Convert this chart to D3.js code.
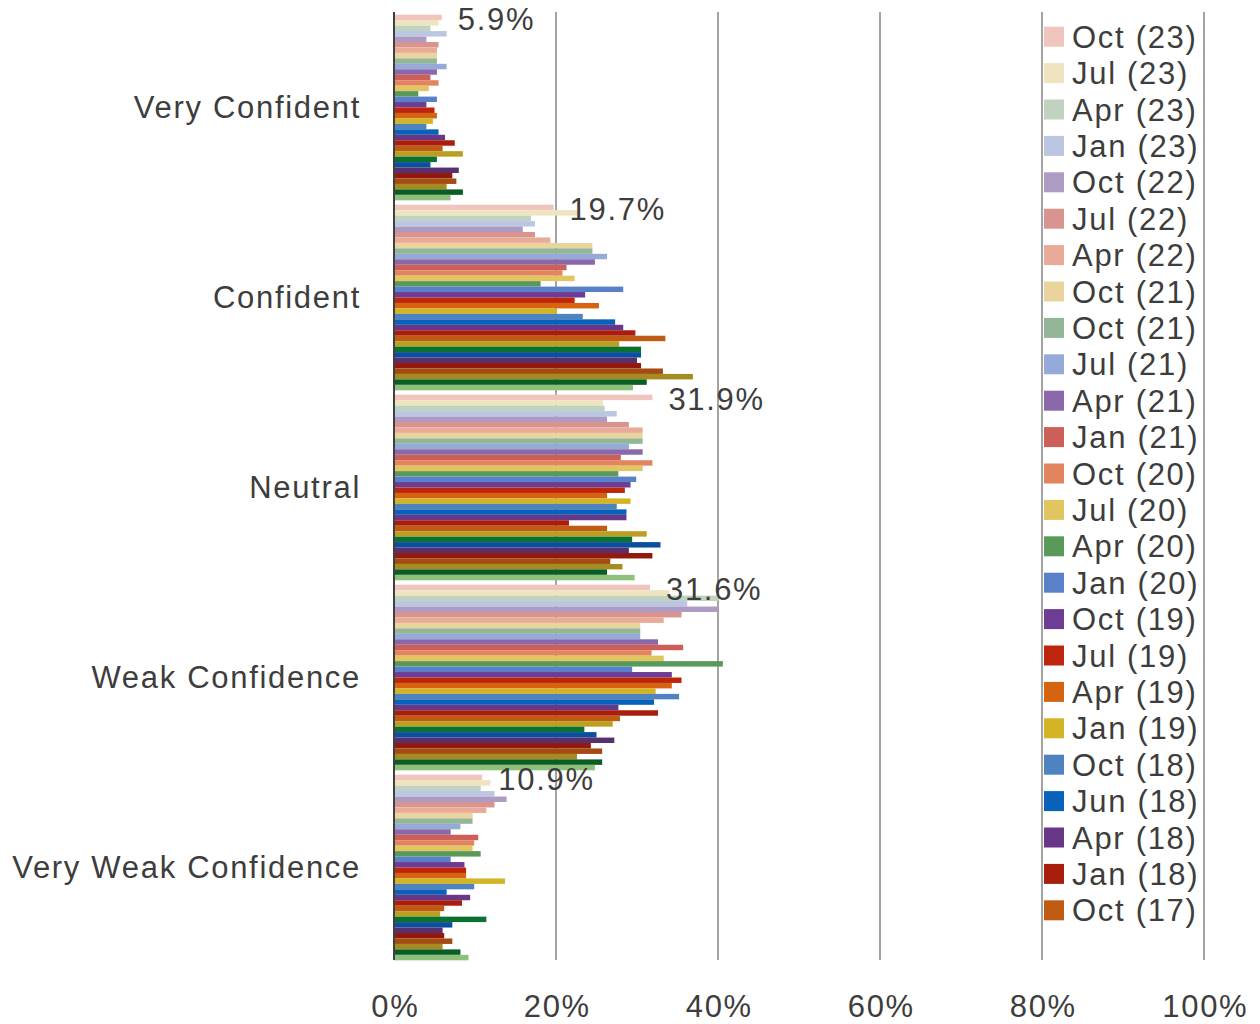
<!DOCTYPE html>
<html>
<head>
<meta charset="utf-8">
<script src="https://cdn.jsdelivr.net/npm/d3@7"></script>
<style>
  body { margin: 0; background: #fff; }
  text { font-family: "Liberation Sans", Arial, sans-serif; fill: #3d3d3d; }
</style>
</head>
<body>
<script>
// The data
const categories = ['Very Confident', 'Confident', 'Neutral', 'Weak Confidence', 'Very Weak Confidence'];

// survey waves, newest first (legend only has room for the first 25)
const waves = ['Oct (23)', 'Jul (23)', 'Apr (23)', 'Jan (23)', 'Oct (22)', 'Jul (22)', 'Apr (22)',
  'Oct (21)', 'Oct (21) ', 'Jul (21)', 'Apr (21)', 'Jan (21)', 'Oct (20)', 'Jul (20)', 'Apr (20)',
  'Jan (20)', 'Oct (19)', 'Jul (19)', 'Apr (19)', 'Jan (19)', 'Oct (18)', 'Jun (18)', 'Apr (18)',
  'Jan (18)', 'Oct (17)', 'Jul (17)', 'Apr (17)', 'Jan (17)', 'Oct (16)', 'Jul (16)', 'Apr (16)',
  'Jan (16)', 'Oct (15)', 'Jul (15)'];

// percent per wave, one array per answer
const veryConfident = [5.9, 5.5, 4.5, 6.5, 4.0, 5.5, 5.3, 5.3, 5.3, 6.5, 5.3, 4.5, 5.5, 4.3, 3.0, 5.3, 4.0,
  5.0, 5.3, 4.8, 4.0, 5.5, 6.3, 7.5, 6.0, 8.5, 5.3, 4.5, 8.0, 7.2, 7.7, 6.5, 8.5, 7.0];
const confident = [19.7, 22.9, 16.9, 17.4, 15.9, 17.4, 19.3, 24.5, 24.5, 26.3, 24.8, 21.3, 20.8, 22.3, 18.1,
  28.3, 23.6, 22.3, 25.3, 20.1, 23.3, 27.3, 28.3, 29.8, 33.5, 27.8, 30.5, 30.5, 30.0, 30.5, 33.2, 36.9, 31.2, 29.5];
const neutral = [31.9, 25.8, 26.0, 27.5, 26.3, 29.0, 30.7, 30.7, 30.7, 29.0, 30.7, 28.0, 31.9, 30.7, 27.7,
  29.9, 29.2, 28.5, 26.3, 29.2, 27.5, 28.7, 28.7, 21.6, 26.3, 31.2, 29.4, 32.9, 29.0, 31.9, 26.7, 28.2, 26.3, 29.7];
const weakConfidence = [31.6, 34.0, 40.1, 36.2, 39.9, 35.5, 33.3, 30.4, 30.4, 30.4, 32.6, 35.7, 31.8, 33.3, 40.6,
  29.4, 34.3, 35.5, 34.3, 32.3, 35.2, 32.1, 27.7, 32.6, 27.9, 27.0, 23.5, 25.0, 27.2, 24.3, 25.7, 22.6, 25.7, 24.8];
const veryWeakConfidence = [10.9, 11.9, 10.7, 12.4, 13.9, 12.4, 11.4, 9.7, 9.7, 8.2, 7.0, 10.4, 9.9, 9.7, 10.7,
  7.0, 8.7, 8.9, 8.9, 13.7, 9.9, 6.5, 9.4, 8.4, 6.2, 5.7, 11.4, 7.2, 6.0, 6.2, 7.2, 6.0, 8.2, 9.2];

const xTicks = [0, 20, 40, 60, 80, 100];

const palette = ['#f0c5bd', '#efe3c0', '#bfd3c0', '#bac6e2', '#ae9bc3', '#d99490', '#e9ab98',
  '#e8d49c', '#93b796', '#96aad9', '#8a68aa', '#cd5f59', '#e2855e', '#e2c460', '#599a5b',
  '#5a80c9', '#6d3c94', '#be250d', '#d5630f', '#d3b425', '#4f83c0', '#0862b9', '#683788',
  '#a81d0b', '#c05b13', '#bb9f22', '#0a7131', '#0b4f9e', '#58306f', '#93190c', '#a44b11',
  '#a58b20', '#0a5d24', '#8dc17b'];

const rows = [veryConfident, confident, neutral, weakConfidence, veryWeakConfidence];
const legendCount = 25;

const width = 1260;
const height = 1024;
const spacing = '1.7px';

var svg = d3.select('body')
  .append('svg')
  .attr('width', width)
  .attr('height', height);

// scales
const x = d3.scaleLinear().domain([0, 100]).range([394, 1204]);
const y0 = d3.scaleBand().domain(categories).range([12.5, 962.5])
  .paddingInner(0.023).paddingOuter(0.0115);
const y1 = d3.scaleBand().domain(waves).range([0, y0.bandwidth()]);
const color = d3.scaleOrdinal().domain(waves).range(palette);

// gridlines
svg.append('g')
  .selectAll('line')
  .data(xTicks.filter(d => d > 0))
  .join('line')
  .attr('x1', d => x(d)).attr('x2', d => x(d))
  .attr('y1', 12).attr('y2', 960)
  .attr('stroke', '#a3a3a3')
  .attr('stroke-width', 2);

// the bars
const groups = svg.append('g')
  .selectAll('g')
  .data(categories)
  .join('g')
  .attr('transform', d => 'translate(0,' + y0(d) + ')');

groups.selectAll('rect')
  .data((c, i) => waves.map((w, j) => ({ wave: w, value: rows[i][j] })))
  .join('rect')
  .attr('x', x(0))
  .attr('y', d => y1(d.wave))
  .attr('width', d => x(d.value) - x(0))
  .attr('height', y1.bandwidth())
  .attr('fill', d => color(d.wave));

// value axis line
svg.append('line')
  .attr('x1', x(0)).attr('x2', x(0))
  .attr('y1', 12).attr('y2', 960)
  .attr('stroke', '#404040')
  .attr('stroke-width', 2);

// labels for the newest wave only
groups.append('text')
  .attr('x', (c, i) => x(rows[i][0]) + 16)
  .attr('y', y1(waves[0]) + y1.bandwidth() / 2 + 13)
  .style('font-size', '31px')
  .style('letter-spacing', spacing)
  .text((c, i) => rows[i][0].toFixed(1) + '%');

// category labels
groups.append('text')
  .attr('x', 361)
  .attr('y', y0.bandwidth() / 2 + 11)
  .style('font-size', '31px')
  .style('letter-spacing', spacing)
  .style('text-anchor', 'end')
  .text(d => d);

// x axis labels
const xAxis = svg.append('g')
  .attr('transform', 'translate(0,982)')
  .call(d3.axisBottom(x).tickValues(xTicks).tickSize(0).tickFormat(d => d + '%'));
xAxis.select('.domain').remove();
xAxis.selectAll('text')
  .attr('dy', 0).attr('y', 35).attr('dx', 0.8)
  .style('font-family', '"Liberation Sans", Arial, sans-serif')
  .style('font-size', '31px')
  .style('letter-spacing', spacing)
  .style('fill', '#3d3d3d');

// legend
const legend = svg.append('g')
  .selectAll('g')
  .data(waves.slice(0, legendCount))
  .join('g')
  .attr('transform', (d, i) => 'translate(1044,' + (36.7 + i * 36.4) + ')');

legend.append('rect')
  .attr('x', 0).attr('y', -10)
  .attr('width', 20).attr('height', 20)
  .attr('fill', d => color(d));

legend.append('text')
  .attr('x', 28)
  .attr('y', 11)
  .style('font-size', '31px')
  .style('letter-spacing', spacing)
  .text(d => d.trim());
</script>
</body>
</html>
